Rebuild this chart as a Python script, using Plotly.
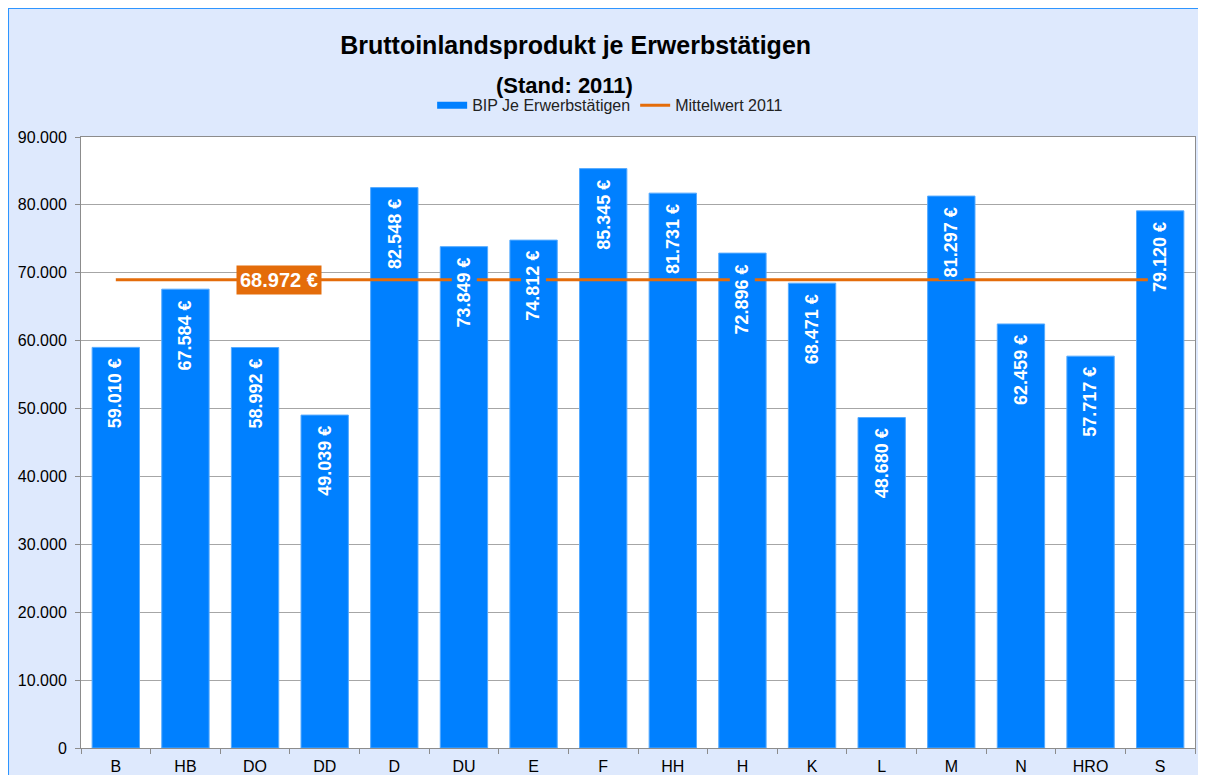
import plotly.graph_objects as go

# ---- data ----
cities = ["B", "HB", "DO", "DD", "D", "DU", "E", "F", "HH", "H", "K", "L", "M", "N", "HRO", "S"]
bip_values = [59010, 67584, 58992, 49039, 82548, 73849, 74812, 85345,
              81731, 72896, 68471, 48680, 81297, 62459, 57717, 79120]
mean_2011 = 68972
y_ticks = [0, 10000, 20000, 30000, 40000, 50000, 60000, 70000, 80000, 90000]

BAR_COLOR = "#0080FF"
LINE_COLOR = "#E46C0A"
BG = "#DEE9FD"
FONT = "Liberation Sans, Arial, sans-serif"


def euro(v):
    return f"{v:,}".replace(",", ".") + " €"


fig = go.Figure()
fig.add_trace(go.Bar(
    x=cities, y=bip_values, name="BIP Je Erwerbstätigen", showlegend=False,
    marker=dict(color=BAR_COLOR, line=dict(color="#55AAFF", width=1)),
    hoverinfo="x+y",
))
# legend entry for the bars (wide flat swatch like the original)
fig.add_trace(go.Scatter(
    x=[None], y=[None], name="BIP Je Erwerbstätigen", mode="lines",
    line=dict(color=BAR_COLOR, width=7), hoverinfo="skip",
))
fig.add_trace(go.Scatter(
    x=cities, y=[mean_2011] * len(cities), name="Mittelwert 2011",
    mode="lines", line=dict(color=LINE_COLOR, width=3),
))

annotations = []
for c, v in zip(cities, bip_values):
    annotations.append(dict(
        x=c, y=v, xref="x", yref="y", text=euro(v), showarrow=False,
        textangle=-90, yanchor="top", xanchor="center", yshift=-8,
        font=dict(family=FONT, size=18, color="white", weight="bold"),
        bgcolor=BAR_COLOR, borderpad=2,
    ))
# mean label
annotations.append(dict(
    x=2.35, y=mean_2011, xref="x", yref="y", text=euro(mean_2011), showarrow=False,
    xanchor="center", yanchor="middle",
    font=dict(family=FONT, size=20, color="white", weight="bold"),
    bgcolor=LINE_COLOR, borderpad=3,
))
# subtitle
annotations.append(dict(
    x=0.4336, y=1.0835, xref="paper", yref="paper", text="<b>(Stand: 2011)</b>",
    showarrow=False, xanchor="center", yanchor="middle",
    font=dict(family=FONT, size=22, color="black"),
))

# blue frame line along the left and top edges of the chart area
shapes = [
    dict(type="line", xref="paper", yref="paper", x0=-0.0655, x1=-0.0655, y0=-0.1, y1=1.2111,
         line=dict(color="#2E95FF", width=2), layer="below"),
    dict(type="line", xref="paper", yref="paper", x0=-0.0655, x1=1.1, y0=1.2111, y1=1.2111,
         line=dict(color="#2E95FF", width=2), layer="below"),
]

fig.update_layout(
    width=1190, height=767,
    margin=dict(l=73, r=3, t=129, b=27),
    paper_bgcolor=BG, plot_bgcolor="white",
    separators=",.",
    font=dict(family=FONT, size=16, color="black"),
    title=dict(
        text="<b>Bruttoinlandsprodukt je Erwerbstätigen</b>",
        x=0.477, xref="container", xanchor="center",
        y=0.9518, yref="container", yanchor="middle",
        font=dict(family=FONT, size=25, color="black"),
    ),
    bargap=0.32,
    showlegend=True,
    legend=dict(orientation="h", x=0.475, xref="paper", xanchor="center",
                y=1.052, yanchor="middle", bgcolor="rgba(0,0,0,0)",
                font=dict(family=FONT, size=16, color="#222")),
    annotations=annotations,
    shapes=shapes,
)
fig.update_xaxes(
    showline=True, linecolor="#8C8C8C", linewidth=1, mirror=True,
    ticks="outside", tickson="boundaries", ticklen=5, tickcolor="#8C8C8C",
    ticklabelstandoff=4, automargin=False,
    tickfont=dict(family=FONT, size=16, color="black"),
    showgrid=False,
)
fig.update_yaxes(
    range=[0, 90000], tickvals=y_ticks, tickformat=",d",
    showline=True, linecolor="#8C8C8C", linewidth=1, mirror=True,
    ticks="outside", ticklen=5, tickcolor="#8C8C8C",
    ticklabelstandoff=5, automargin=False,
    showgrid=True, gridcolor="#A6A6A6", gridwidth=1,
    tickfont=dict(family=FONT, size=16, color="black"),
    zeroline=False,
)

fig.write_html("out.html")
